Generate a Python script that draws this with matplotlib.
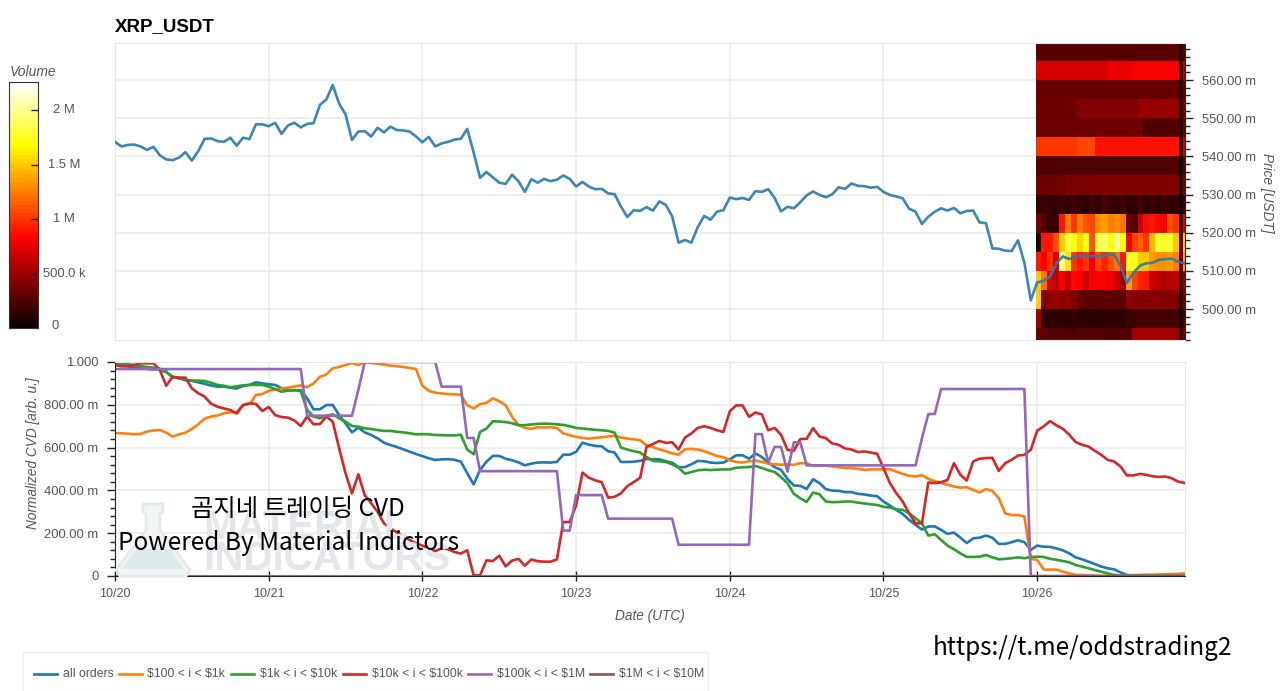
import numpy as np
import matplotlib
matplotlib.use('Agg')
import matplotlib.pyplot as plt
from matplotlib.lines import Line2D
from matplotlib.patches import Polygon, Rectangle

W, H = 1280, 691

# hourly values, hour 0 = 10/20 00:00
price = [543.8, 542.6, 543.0, 543.1, 542.6, 541.7, 542.5, 540.3, 539.2, 539.0, 539.7, 541.1,
         538.9, 541.4, 544.6, 544.7, 544.0, 543.8, 544.9, 542.8, 544.9, 544.5, 548.4, 548.4,
         547.9, 548.8, 545.9, 548.1, 548.8, 547.6, 548.5, 548.7, 553.5, 554.9, 558.7, 553.8,
         551.0, 544.3, 546.5, 546.6, 545.2, 547.5, 546.3, 547.8, 546.9, 546.8, 546.5, 545.2,
         543.7, 545.1, 542.6, 543.4, 543.8, 544.4, 544.6, 547.2, 541.0, 534.4, 535.9, 534.5,
         533.1, 532.8, 535.2, 533.5, 530.7, 534.0, 533.1, 534.1, 533.5, 533.9, 535.0, 534.1,
         532.1, 533.3, 532.1, 531.4, 531.5, 530.3, 530.1, 526.9, 524.1, 525.9, 525.7, 526.7,
         525.8, 528.2, 527.3, 524.3, 517.4, 518.1, 517.4, 521.5, 524.4, 523.4, 525.5, 525.9,
         529.2, 528.8, 529.1, 528.6, 530.9, 530.7, 531.4, 529.1, 525.6, 526.8, 526.4, 528.0,
         529.8, 530.8, 529.9, 529.3, 530.1, 531.9, 531.5, 532.9, 532.3, 532.2, 531.8, 532.0,
         530.7, 529.9, 529.5, 529.0, 526.3, 525.5, 522.3, 524.2, 525.5, 526.4, 525.8, 526.5,
         525.1, 525.7, 525.8, 522.7, 522.5, 515.9, 515.8, 515.3, 515.2, 518.0, 512.1, 502.3,
         507.0, 507.4, 508.5, 512.0, 513.8, 513.1, 513.8, 514.0, 513.8, 513.9, 513.8, 514.2,
         514.3, 511.3, 506.8, 509.4, 511.3, 512.0, 512.1, 512.9, 513.1, 513.2, 512.4, 512.0]

all_orders = [.990, .985, .980, .975, .970, .968, .965, .968, .955, .930, .924, .915,
              .912, .905, .898, .890, .885, .885, .880, .876, .888, .893, .905, .900,
              .896, .893, .878, .866, .868, .868, .830, .779, .779, .799, .799, .752,
              .713, .671, .693, .671, .659, .643, .623, .612, .603, .592, .581, .570,
              .560, .550, .542, .545, .546, .543, .535, .480, .428, .495, .534, .561,
              .561, .548, .541, .531, .517, .525, .530, .531, .530, .533, .567, .567,
              .580, .623, .614, .608, .606, .583, .577, .533, .533, .534, .538, .547,
              .545, .545, .536, .530, .508, .509, .522, .538, .536, .530, .528, .530,
              .545, .564, .564, .548, .573, .556, .530, .509, .496, .454, .423, .421,
              .407, .452, .434, .406, .399, .398, .392, .392, .384, .381, .376, .373,
              .348, .329, .309, .290, .262, .239, .217, .231, .232, .215, .197, .203,
              .179, .154, .176, .179, .189, .179, .150, .150, .158, .167, .158, .122,
              .142, .137, .136, .129, .120, .106, .087, .078, .067, .056, .044, .036,
              .031, .017, .005, .002, .002, .002, .002, .002, .002, .002, .002, .002]

usd_100_1k = [.668, .667, .665, .662, .664, .675, .680, .682, .670, .651, .662, .670,
              .687, .709, .735, .745, .750, .760, .765, .765, .799, .802, .846, .850,
              .865, .872, .877, .880, .885, .891, .882, .900, .931, .942, .970, .977,
              .986, .995, .986, .998, .995, .992, .988, .983, .980, .977, .972, .967,
              .889, .865, .857, .853, .850, .849, .847, .798, .783, .803, .809, .830,
              .817, .798, .744, .705, .692, .688, .695, .694, .695, .692, .666, .658,
              .650, .645, .642, .645, .648, .652, .655, .647, .642, .639, .634, .611,
              .602, .592, .583, .573, .567, .592, .594, .591, .583, .572, .561, .555,
              .541, .533, .530, .536, .539, .533, .525, .522, .520, .522, .519, .527,
              .527, .515, .516, .516, .512, .509, .504, .504, .501, .496, .498, .498,
              .498, .499, .488, .477, .468, .465, .471, .454, .443, .435, .426, .418,
              .413, .415, .402, .390, .406, .398, .363, .293, .285, .285, .278, .080,
              .075, .030, .030, .030, .020, .012, .005, .005, .003, .002, .000, .000,
              .000, .001, .003, .004, .005, .006, .006, .007, .008, .009, .010, .012]

usd_1k_10k = [.995, .992, .989, .986, .981, .977, .974, .963, .952, .930, .924, .916,
              .913, .913, .911, .903, .893, .889, .882, .886, .891, .893, .893, .893,
              .885, .874, .861, .866, .869, .864, .776, .745, .737, .749, .755, .737,
              .721, .701, .698, .690, .687, .682, .678, .678, .674, .671, .667, .662,
              .663, .662, .659, .658, .657, .657, .660, .591, .569, .673, .689, .723,
              .722, .719, .714, .705, .705, .708, .711, .712, .711, .709, .706, .700,
              .692, .689, .686, .683, .681, .678, .670, .600, .591, .583, .577, .556,
              .538, .536, .533, .522, .506, .478, .486, .494, .497, .495, .497, .498,
              .498, .506, .508, .509, .514, .505, .494, .486, .462, .434, .384, .363,
              .346, .390, .382, .348, .345, .346, .348, .348, .343, .339, .335, .332,
              .323, .320, .312, .309, .293, .270, .246, .189, .195, .168, .142, .125,
              .106, .089, .089, .090, .098, .087, .078, .080, .083, .087, .083, .089,
              .090, .089, .080, .076, .070, .064, .051, .044, .036, .028, .020, .012,
              .005, .002, .002, .002, .002, .002, .002, .002, .002, .002, .002, .002]

usd_10k_100k = [.986, .980, .980, .986, .994, .994, .994, .963, .889, .931, .927, .927,
                .877, .854, .838, .805, .791, .783, .776, .759, .799, .807, .804, .771,
                .790, .752, .743, .740, .727, .701, .745, .709, .710, .745, .721, .597,
                .480, .386, .475, .378, .340, .300, .246, .223, .204, .184, .168, .153,
                .142, .130, .116, .130, .125, .112, .105, .120, .003, .003, .073, .070,
                .095, .045, .072, .080, .048, .077, .069, .067, .067, .077, .252, .252,
                .330, .483, .459, .447, .438, .366, .370, .386, .420, .439, .459, .603,
                .617, .631, .622, .625, .591, .647, .666, .692, .700, .692, .681, .673,
                .770, .797, .797, .744, .764, .755, .681, .692, .660, .590, .585, .640,
                .641, .691, .652, .644, .619, .613, .596, .591, .579, .582, .577, .571,
                .504, .434, .387, .348, .293, .246, .246, .437, .434, .438, .449, .527,
                .473, .446, .535, .548, .551, .552, .491, .527, .543, .563, .566, .590,
                .679, .699, .724, .704, .688, .660, .626, .613, .605, .585, .566, .543,
                .535, .512, .470, .470, .477, .473, .466, .463, .465, .457, .441, .435]

usd_100k_1m = [.967, .967, .967, .967, .967, .967, .967, .967, .967, .967, .967, .967,
               .967, .967, .967, .967, .967, .967, .967, .967, .967, .967, .967, .967,
               .967, .967, .967, .967, .967, .967, .749, .749, .749, .749, .749, .749,
               .749, .749, .870, 1.00, 1.00, 1.00, 1.00, 1.00, 1.00, 1.00, 1.00, 1.00,
               1.00, 1.00, 1.00, .885, .885, .885, .885, .645, .645, .490, .490, .490,
               .490, .490, .490, .490, .490, .490, .490, .490, .490, .490, .212, .212,
               .378, .378, .378, .378, .378, .268, .268, .268, .268, .268, .268, .268,
               .268, .268, .268, .268, .146, .146, .146, .146, .146, .146, .146, .146,
               .146, .146, .146, .146, .663, .663, .530, .603, .603, .488, .625, .625,
               .517, .517, .517, .517, .517, .517, .517, .517, .517, .517, .517, .517,
               .517, .517, .517, .517, .517, .517, .643, .757, .757, .874, .874, .874,
               .874, .874, .874, .874, .874, .874, .874, .874, .874, .874, .874, .000,
               .000, .000, .000, .000, .000, .000, .000, .000, .000, .000, .000, .000,
               .000, .000, .000, .000, .000, .000, .000, .000, .000, .000, .000, .000]

usd_1m_10m = [0.0] * 168

day_labels = ['10/20', '10/21', '10/22', '10/23', '10/24', '10/25', '10/26']
price_ticks = [500, 510, 520, 530, 540, 550, 560]
cvd_ticks = [0, .2, .4, .6, .8, 1.0]
cvd_labels = ['0', '200.00 m', '400.00 m', '600.00 m', '800.00 m', '1.000']

# volume per price bin (k), rows low to high price, 24 hourly columns + 2 end columns
heat_price_edges = [490, 495, 500, 505, 510, 515, 520, 525, 530, 535, 540, 545, 550, 555, 560, 565, 570]
heat_volume = [
    [300, 280, 260, 260, 260, 240, 240, 260, 260, 260, 240, 240, 240, 240, 260, 260, 520, 520, 520, 520, 520, 520, 520, 520, 100, 400],
    [500, 120, 120, 130, 130, 130, 150, 130, 130, 120, 130, 130, 130, 130, 130, 170, 170, 200, 200, 200, 200, 200, 180, 200, 60, 200],
    [1500, 400, 450, 500, 450, 450, 400, 300, 280, 280, 280, 280, 280, 280, 280, 450, 400, 420, 420, 420, 420, 400, 420, 400, 100, 400],
    [1500, 1200, 700, 600, 800, 650, 850, 800, 650, 800, 800, 800, 750, 650, 500, 1350, 1050, 950, 900, 650, 600, 550, 600, 600, 150, 500],
    [900, 800, 1000, 700, 2000, 1600, 1000, 900, 1000, 800, 1050, 950, 1100, 1200, 900, 1750, 1750, 1500, 1500, 1350, 1300, 1300, 1350, 1250, 300, 1400],
    [50, 900, 900, 1100, 1500, 1850, 1700, 1550, 1700, 1100, 1850, 1900, 1700, 2000, 1700, 800, 1050, 1150, 1000, 1450, 1800, 1750, 1800, 1500, 300, 1500],
    [350, 250, 150, 150, 900, 1250, 1000, 1250, 1100, 1050, 1300, 1350, 1250, 1300, 1200, 300, 250, 650, 850, 900, 850, 800, 1100, 1000, 150, 800],
    [130, 180, 150, 130, 170, 130, 200, 150, 130, 180, 130, 200, 150, 130, 180, 130, 150, 200, 130, 170, 130, 180, 130, 150, 50, 200],
    [340, 340, 340, 340, 340, 380, 380, 380, 380, 380, 400, 400, 400, 400, 400, 400, 400, 400, 400, 400, 400, 400, 400, 400, 80, 400],
    [240, 240, 240, 240, 240, 240, 240, 240, 240, 240, 240, 240, 240, 240, 240, 240, 240, 240, 240, 240, 240, 240, 240, 240, 50, 240],
    [1000, 1000, 1000, 1000, 1000, 1000, 1000, 1060, 1060, 1060, 880, 880, 880, 880, 880, 880, 880, 880, 880, 880, 880, 880, 880, 880, 100, 700],
    [330, 330, 330, 330, 330, 330, 330, 330, 330, 330, 330, 330, 330, 330, 330, 330, 330, 330, 240, 240, 240, 240, 240, 240, 100, 300],
    [330, 330, 330, 330, 330, 330, 330, 400, 400, 400, 400, 400, 400, 400, 400, 400, 400, 480, 480, 480, 480, 480, 480, 480, 100, 400],
    [310, 310, 310, 310, 310, 310, 310, 310, 310, 310, 310, 310, 310, 310, 310, 310, 310, 300, 300, 300, 300, 300, 300, 300, 100, 300],
    [700, 700, 700, 700, 700, 700, 700, 700, 700, 700, 700, 700, 760, 760, 760, 760, 800, 800, 800, 800, 800, 800, 800, 800, 150, 600],
    [260, 260, 260, 260, 260, 260, 260, 260, 260, 260, 260, 260, 260, 260, 260, 260, 260, 260, 260, 260, 260, 260, 260, 260, 100, 260],
]
volume_max = 2257
volume_ticks = [500, 1000, 1500, 2000]

plt.rcParams['font.family'] = ['Liberation Sans', 'DejaVu Sans']
tick_grey = '#555555'
grid_col = '#ececec'
colors = ['#1f77b4', '#ff7f0e', '#2ca02c', '#d62728', '#9467bd', '#8c564b']
names = ['all orders', '$100 < i < $1k', '$1k < i < $10k', '$10k < i < $100k', '$100k < i < $1M', '$1M < i < $10M']
series = [all_orders, usd_100_1k, usd_1k_10k, usd_10k_100k, usd_100k_1m, usd_1m_10m]


def box(x0, y0, x1, y1):
    # pixel box from the top left corner -> figure fraction
    return [x0 / W, 1 - y1 / H, (x1 - x0) / W, (y1 - y0) / H]


def fx(x):
    return x / W


def fy(y):
    return 1 - y / H


fig = plt.figure(figsize=(12.8, 6.91), dpi=100)
hours_to_days = 1 / 24
x_max = 1070 / 153.7
x_hours = np.arange(168) * hours_to_days

## Price panel
ax1 = fig.add_axes(box(115, 43, 1185, 340))
day_edge = 1035.5
heat_edges = [(day_edge + 6 * c - 115) / 153.7 for c in range(25)] + [(1183.5 - 115) / 153.7, (1185.8 - 115) / 153.7]
ax1.pcolormesh(heat_edges, heat_price_edges, np.array(heat_volume), cmap='hot', vmin=0, vmax=volume_max, zorder=2, rasterized=True)
ax1.plot(x_hours, price, color='#2b7bb0', lw=1.9, zorder=3, alpha=0.92)
ax1.set_xlim(0, x_max)
ax1.set_ylim(491.9, 569.7)
ax1.set_xticks(np.arange(7))
ax1.tick_params(axis='x', length=0, labelbottom=False)
ax1.grid(color=grid_col, lw=1.2, zorder=0)
ax1.set_axisbelow(True)
ax1.yaxis.tick_right()
ax1.set_yticks(price_ticks)
ax1.set_yticklabels(['%d.00 m' % p for p in price_ticks], color=tick_grey, fontsize=9.4)
ax1.set_yticks(np.arange(492, 570, 2), minor=True)
ax1.tick_params(axis='y', which='major', length=6, width=1, color='#222222', pad=6)
ax1.tick_params(axis='y', which='minor', length=3.5, width=1, color='#222222')
for s in ['top', 'left', 'bottom']:
    ax1.spines[s].set_color('#e6e6e6')
ax1.spines['right'].set_color('#222222')

## CVD panel
ax2 = fig.add_axes(box(115, 362, 1185, 576))
ax2.set_xlim(0, x_max)
ax2.set_ylim(0, 1)

# watermark sits under the lines
fig.add_artist(Polygon([(fx(x), fy(y)) for x, y in [(143, 504), (163, 504), (163, 512), (160, 514), (160, 530), (190, 570),
                                                    (186, 576), (120, 576), (116, 570), (146, 530), (146, 514), (143, 512)]],
                       closed=True, fc='#f1f4f5', ec='#e6e9ea', lw=2, zorder=0.5))
fig.add_artist(Polygon([(fx(x), fy(y)) for x, y in [(136, 549), (170, 549), (184, 569), (122, 569)]],
                       closed=True, fc='#dfe9ec', ec='none', zorder=0.6))
ax2.patch.set_alpha(0)
fig.text(fx(203), fy(528), 'MATERIAL', family=['Liberation Sans Narrow', 'Liberation Sans'], weight='bold', fontsize=29,
         color='#e3e7ea', va='center', ha='left', zorder=0.6)
fig.text(fx(203), fy(559), 'INDICATORS', family=['Liberation Sans Narrow', 'Liberation Sans'], weight='bold', fontsize=29,
         color='#e3e7ea', va='center', ha='left', zorder=0.6)

for vals, c, n in zip(series, colors, names):
    ax2.plot(x_hours, vals, color=c, lw=1.9, label=n, zorder=2)

ax2.set_xticks(np.arange(7))
ax2.set_xticklabels(day_labels, color=tick_grey, fontsize=9)
ax2.tick_params(axis='x', length=7, width=1, color='#222222', pad=5, direction='inout')
ax2.set_yticks(cvd_ticks)
ax2.set_yticklabels(cvd_labels, color=tick_grey, fontsize=9.4)
ax2.set_yticks(np.arange(0, 1.001, .04), minor=True)
ax2.tick_params(axis='y', which='major', length=6, width=1, color='#222222', pad=6)
ax2.tick_params(axis='y', which='minor', length=3.5, width=1, color='#222222')
ax2.grid(color=grid_col, lw=1.2)
ax2.set_axisbelow(True)
for s in ['top', 'right']:
    ax2.spines[s].set_color('#e6e6e6')
for s in ['left', 'bottom']:
    ax2.spines[s].set_color('#222222')

# overlay text on the lower panel
fig.text(fx(298), fy(509), '곰지네 트레이딩 CVD', family=['Noto Sans CJK KR', 'DejaVu Sans'], weight='medium', fontsize=17.5,
         color='black', ha='center', va='center', zorder=5)
fig.text(fx(118), fy(543), 'Powered By Material Indictors', family=['Noto Sans CJK KR', 'DejaVu Sans'], weight='medium', fontsize=17.5,
         color='black', ha='left', va='center', zorder=5)
fig.text(fx(933), fy(648), 'https://t.me/oddstrading2', family=['Noto Sans CJK KR', 'DejaVu Sans'], weight='medium', fontsize=17.5,
         color='black', ha='left', va='center', zorder=5)

## Titles and axis names
fig.text(fx(115), fy(27), 'XRP_USDT', fontsize=13.5, weight='bold', color='black', ha='left', va='center')
fig.text(fx(1267), fy(193), 'Price [USDT]', fontsize=9.8, style='italic', color=tick_grey, rotation=-90, ha='center', va='center')
fig.text(fx(33), fy(453), 'Normalized CVD [arb. u.]', fontsize=9.8, style='italic', color=tick_grey, rotation=90, ha='center', va='center')
fig.text(fx(650), fy(616), 'Date (UTC)', fontsize=9.8, style='italic', color=tick_grey, ha='center', va='center')

## Colour bar
cax = fig.add_axes(box(9, 82, 38, 328))
cax.imshow(np.linspace(1, 0, 256).reshape(-1, 1), cmap=plt.get_cmap('hot', 64), aspect='auto', extent=[0, 1, 0, volume_max], vmin=0, vmax=1)
cax.set_xticks([])
cax.yaxis.tick_right()
cax.set_yticks(volume_ticks)
cax.set_yticklabels([])
cax.tick_params(axis='y', direction='in', length=5, width=1, color='#222222')
for s in cax.spines.values():
    s.set_color('#333333')
fig.text(fx(10), fy(72), 'Volume', fontsize=10, style='italic', color=tick_grey, ha='left', va='center')
for val, lab in zip(volume_ticks, ['500.0 k', '1 M', '1.5 M', '2 M']):
    fig.text(fx(64), fy(328 - val * 246 / volume_max), lab, fontsize=9.4, color=tick_grey, ha='center', va='center')
fig.text(fx(55), fy(326), '0', fontsize=9.4, color=tick_grey, ha='center', va='center')

## Legend, drawn by hand to keep the box where it is
fig.add_artist(Rectangle((fx(23), fy(691)), (708 - 23) / W, (691 - 652) / H, fc='white', ec='#eeeeee', lw=1, transform=fig.transFigure))
line_x = [34, 119, 231, 343, 468, 590]
text_x = [63, 147, 260, 372, 497, 619]
for lx, tx, c, n in zip(line_x, text_x, colors, names):
    fig.add_artist(Line2D([fx(lx), fx(lx + 23)], [fy(674), fy(674)], color=c, lw=1.9))
    fig.text(fx(tx), fy(674), n.replace('$', r'\$'), fontsize=8.8, color=tick_grey, ha='left', va='center')

fig.savefig('out.png', dpi=100)
